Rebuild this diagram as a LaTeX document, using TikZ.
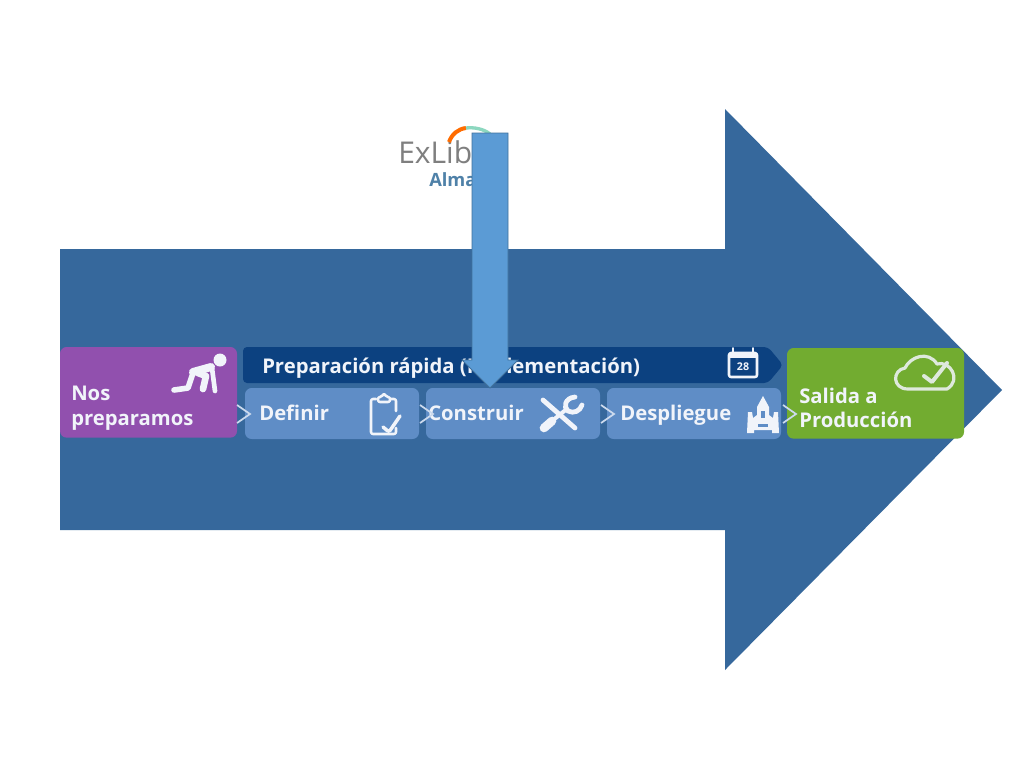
\documentclass[tikz,border=0pt]{standalone}
\usepackage{fontspec}
\setmainfont{Open Sans}
\usepackage{tikz}
\usetikzlibrary{positioning}
\definecolor{flechaazul}{HTML}{36689C}
\definecolor{flechaclara}{HTML}{5B9BD5}
\definecolor{bordeflecha}{HTML}{41719C}
\definecolor{morado}{HTML}{9150AE}
\definecolor{verde}{HTML}{72AC30}
\definecolor{marino}{HTML}{0C4180}
\definecolor{paso}{HTML}{5F8DC6}
\definecolor{gris}{HTML}{7F7F7F}
\definecolor{almaazul}{HTML}{4F81A8}
\definecolor{tinta}{HTML}{F1F4FA}
\tikzset{
  box/.style    ={anchor=north west, rounded corners=5pt, inner sep=0pt, outer sep=0pt},
  fase/.style   ={box, minimum width=132.75pt, minimum height=68pt},
  pasobox/.style={box, fill=paso, minimum width=130.5pt, minimum height=38.25pt},
  txt/.style    ={anchor=base west, inner sep=0pt, text=tinta, font=\fontsize{15.2}{17}\selectfont\bfseries},
  chev/.style   ={draw=tinta!75!paso, line width=1.3pt, line join=miter},
  icono/.style  ={draw=tinta, line width=1.9pt, line cap=round, line join=round, rounded corners=1.5pt}
}

\begin{document}
\begin{tikzpicture}[x=0.75pt,y=-0.75pt]
\useasboundingbox (0,0) rectangle (1024,768);
\fill[white] (0,0) rectangle (1024,768);

% logo
\node[anchor=base west, inner sep=0pt, text=gris, font=\fontsize{22.5}{24}\selectfont] (exlibris) at (398,163) {ExLibris};
\node[anchor=base west, inner sep=0pt, text=almaazul, font=\fontsize{13.7}{15}\selectfont\bfseries] (alma) at (429,186) {Alma};
\draw[orange!85!red, line width=3pt] (449,142) .. controls (452,134) and (458,129) .. (466,128);
\draw[cyan!40!green!45, line width=2.5pt] (466,128) .. controls (474,127) and (484,129) .. (490,134);

% flecha grande
\fill[flechaazul] (60,249) -- (725,249) -- (725,109) -- (1002,390) -- (725,670) -- (725,530) -- (60,530) -- cycle;

% fases
\node[fase, fill=morado] (preparamos) at (60,347) {};
\node[fase, fill=verde] (salida) at (787,348) {};
\node[pasobox] (definir) at (245,388) {};
\node[pasobox] (construir) at (426,388) {};
\node[pasobox] (despliegue) at (607,388) {};
\fill[marino, rounded corners=3pt] (243,347) -- (768,347) -- (783,365) -- (768,383) -- (243,383) -- cycle;

\node[txt] (nos) at (71,400) {Nos};
\node[txt] (prep) at (71,425) {preparamos};
\node[txt] (rapida) at (262,373) {Preparación rápida (Implementación)};
\node[txt] (deftxt) at (259,420) {Definir};
\node[txt] (constxt) at (428,420) {Construir};
\node[txt] (desptxt) at (620,420) {Despliegue};
\node[txt] (sal) at (799,403) {Salida a};
\node[txt] (prod) at (799,427) {Producción};

% separadores
\draw[chev] (237,405) -- (250,414) -- (237,423);
\draw[chev] (420,405) -- (433,414) -- (420,423);
\draw[chev] (601,405) -- (614,414) -- (601,423);
\draw[chev] (783,405) -- (796,414) -- (783,423);

% persona
\fill[tinta] (220,360) circle (6.5);
\draw[tinta, line width=4.2pt, line cap=round, line join=round]
  (174,390) -- (188,388) -- (193,373);
\draw[tinta, line width=6pt, line cap=round, line join=round] (193,372) -- (211,367);
\draw[tinta, line width=3.5pt, line cap=round, line join=round] (212,368) -- (215,391);
\draw[tinta, line width=5pt, line cap=round, line join=round] (198,373) -- (206,376) -- (203,389);

% portapapeles
\draw[icono] (376,399) -- (371,399) -- (371,434) -- (396,434) -- (396,428);
\draw[icono] (391,399) -- (396,399) -- (396,411);
\draw[icono, fill=paso] (378,402) -- (378,397) -- (382,397) -- (384,393) -- (386,397) -- (390,397) -- (390,402) -- cycle;
\draw[icono, line width=2.6pt] (383,427) -- (389,432) -- (400,416);

% herramientas
\draw[tinta, line width=3.6pt, line cap=round] (543,400) -- (575,428);
\draw[tinta, line width=3pt] (568,408) -- (552,421);
\draw[tinta, line width=6.5pt, line cap=round] (552,421) -- (544,428);
\draw[tinta, line width=3.6pt, line cap=round] (575,397) .. controls (565,398) and (563,407) .. (568,411) .. controls (574,414) and (580,411) .. (582,405);

% cohete
\fill[tinta] (763,396) -- (769,407) -- (769,415) -- (773,418) -- (774,412) -- (778,412) -- (779,433) -- (772,433) -- (772,430) -- (754,430) -- (754,433) -- (747,433) -- (748,412) -- (752,412) -- (753,418) -- (757,415) -- (757,407) -- cycle;
\fill[paso] (761,411) rectangle (765,418);
\fill[paso] (758,424) rectangle (768,427);

% calendario
\draw[icono] (729,353) rectangle (757,377);
\draw[icono, line width=1.4pt] (733,348) -- (733,355) (753,348) -- (753,355);
\fill[tinta] (729,353) rectangle (757,358);
\node[inner sep=0pt, text=tinta, font=\fontsize{8}{8}\selectfont\bfseries] (dia) at (743,367) {28};

% nube
\draw[draw=tinta!85!verde, line width=2.4pt, line join=round]
  (908,389) .. controls (892,389) and (892,370) .. (905,368)
  .. controls (910,357) and (928,350) .. (937,364)
  .. controls (950,360) and (962,380) .. (947,389) -- cycle;
\draw[tinta!85!verde, line width=3pt, line cap=round, line join=round] (924,376) -- (932,382) -- (947,363);

% flecha azul
\draw[draw=bordeflecha, fill=flechaclara, line width=0.6pt] (472,133) -- (508,133) -- (508,360) -- (518,360) -- (490,388) -- (462,360) -- (472,360) -- cycle;
\end{tikzpicture}
\end{document}
